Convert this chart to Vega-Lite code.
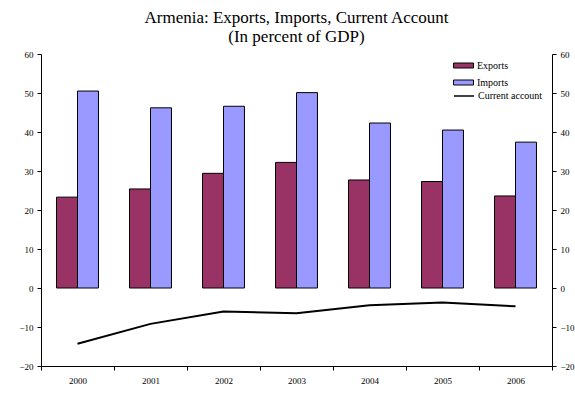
{
  "$schema": "https://vega.github.io/schema/vega-lite/v6.json",
  "autosize": {"type": "none"},
  "padding": {"left": 41, "top": 54, "right": 23, "bottom": 28},
  "width": 511,
  "height": 312,
  "background": "white",
  "title": {
    "text": ["Armenia: Exports, Imports, Current Account", "(In percent of GDP)"],
    "font": "Liberation Serif",
    "fontSize": 17,
    "fontWeight": "normal",
    "lineHeight": 19,
    "anchor": "middle",
    "offset": 4,
    "color": "black"
  },
  "config": {
    "font": "Liberation Serif",
    "view": {"stroke": null},
    "axis": {
      "labelFont": "Liberation Serif",
      "labelFontSize": 9,
      "labelColor": "black",
      "domainColor": "black",
      "tickColor": "black",
      "grid": false,
      "title": null
    },
    "legend": {
      "labelFont": "Liberation Serif",
      "labelFontSize": 9,
      "labelColor": "black"
    }
  },
  "datasets": {
    "trade": [
      {"year": "2000", "series": "Exports", "value": 23.3},
      {"year": "2000", "series": "Imports", "value": 50.5},
      {"year": "2001", "series": "Exports", "value": 25.4},
      {"year": "2001", "series": "Imports", "value": 46.2},
      {"year": "2002", "series": "Exports", "value": 29.4},
      {"year": "2002", "series": "Imports", "value": 46.6},
      {"year": "2003", "series": "Exports", "value": 32.2},
      {"year": "2003", "series": "Imports", "value": 50.1},
      {"year": "2004", "series": "Exports", "value": 27.7},
      {"year": "2004", "series": "Imports", "value": 42.3},
      {"year": "2005", "series": "Exports", "value": 27.3},
      {"year": "2005", "series": "Imports", "value": 40.5},
      {"year": "2006", "series": "Exports", "value": 23.6},
      {"year": "2006", "series": "Imports", "value": 37.4}
    ],
    "ca": [
      {"year": "2000", "series": "Current account", "value": -14.3},
      {"year": "2001", "series": "Current account", "value": -9.2},
      {"year": "2002", "series": "Current account", "value": -6.0},
      {"year": "2003", "series": "Current account", "value": -6.5},
      {"year": "2004", "series": "Current account", "value": -4.4},
      {"year": "2005", "series": "Current account", "value": -3.7},
      {"year": "2006", "series": "Current account", "value": -4.7}
    ]
  },
  "resolve": {"scale": {"y": "shared"}, "axis": {"y": "independent"}},
  "layer": [
    {
      "data": {"name": "trade"},
      "mark": {"type": "bar", "stroke": "black", "strokeWidth": 1},
      "encoding": {
        "x": {
          "field": "year", "type": "nominal",
          "scale": {"paddingInner": 0, "paddingOuter": 0},
          "axis": {"orient": "bottom", "labelAngle": 0, "tickBand": "extent", "tickSize": 4, "labelPadding": 6, "labelFont": "Liberation Serif"}
        },
        "xOffset": {"field": "series", "scale": {"paddingInner": 0, "paddingOuter": 0.74}},
        "y": {
          "field": "value", "type": "quantitative",
          "scale": {"domain": [-20, 60], "nice": false, "zero": false},
          "axis": {"orient": "left", "values": [-20, -10, 0, 10, 20, 30, 40, 50, 60], "tickSize": 4, "labelPadding": 4, "labelFont": "Liberation Serif"}
        },
        "fill": {
          "field": "series", "type": "nominal",
          "scale": {"domain": ["Exports", "Imports"], "range": ["#993366", "#9999FF"]},
          "legend": {
            "orient": "none", "legendX": 417, "legendY": 6, "title": null,
            "symbolType": "M-2,-0.5H2V0.5H-2Z", "symbolSize": 100,
            "symbolStrokeColor": "black", "symbolStrokeWidth": 1,
            "labelOffset": 8, "rowPadding": 6, "labelFont": "Liberation Serif", "labelFontSize": 10
          }
        }
      }
    },
    {
      "data": {"name": "ca"},
      "mark": {"type": "line", "strokeWidth": 2},
      "encoding": {
        "x": {"field": "year", "type": "nominal"},
        "y": {
          "field": "value", "type": "quantitative",
          "axis": {"orient": "right", "values": [-20, -10, 0, 10, 20, 30, 40, 50, 60], "tickSize": 4, "labelPadding": 4, "labelFont": "Liberation Serif"}
        },
        "stroke": {
          "field": "series", "type": "nominal",
          "scale": {"domain": ["Current account"], "range": ["black"]},
          "legend": {
            "orient": "none", "legendX": 412, "legendY": 31, "title": null,
            "symbolType": "stroke", "symbolSize": 400, "symbolStrokeWidth": 1.5,
            "labelOffset": 3, "labelFont": "Liberation Serif", "labelFontSize": 10
          }
        }
      }
    },
    {
      "mark": {"type": "rule", "color": "black", "strokeWidth": 1},
      "encoding": {"y": {"datum": 0, "type": "quantitative", "axis": null}}
    },
    {
      "mark": {"type": "rule", "color": "#999999", "strokeWidth": 1},
      "encoding": {"y": {"datum": 60, "type": "quantitative", "axis": null}}
    }
  ]
}
